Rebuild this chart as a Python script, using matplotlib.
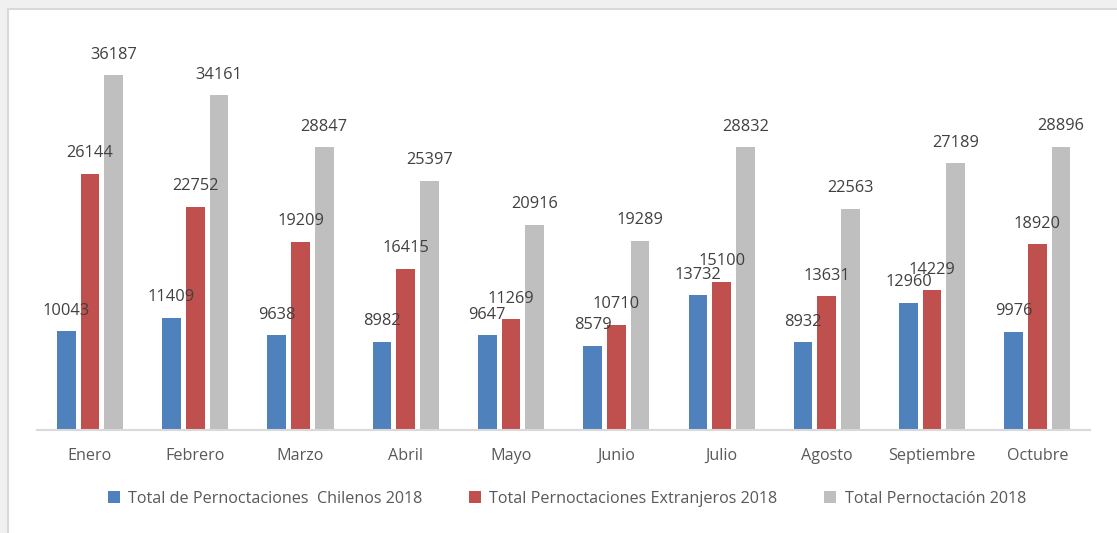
import matplotlib
matplotlib.use("Agg")
import matplotlib.pyplot as plt
from matplotlib.patches import Patch, Rectangle
import numpy as np

categories = ["Enero", "Febrero", "Marzo", "Abril", "Mayo", "Junio", "Julio",
              "Agosto", "Septiembre", "Octubre"]
chilenos = [10043, 11409, 9638, 8982, 9647, 8579, 13732, 8932, 12960, 9976]
extranjeros = [26144, 22752, 19209, 16415, 11269, 10710, 15100, 13631, 14229, 18920]
total = [36187, 34161, 28847, 25397, 20916, 19289, 28832, 22563, 27189, 28896]
series_names = ["Total de Pernoctaciones  Chilenos 2018",
                "Total Pernoctaciones Extranjeros 2018",
                "Total Pernoctación 2018"]
colors = ["#4f81bd", "#c0504d", "#bfbfbf"]

plt.rcParams['font.family'] = ['Open Sans', 'DejaVu Sans']

W, H = 1117, 533
fig = plt.figure(figsize=(W / 100, H / 100), dpi=100, facecolor="#f0f0f0")

# white chart area with light border
fig.patches.append(Rectangle((8 / W, -0.01), 1.02, (H - 9) / H + 0.01,
                             transform=fig.transFigure, facecolor="white",
                             edgecolor="#d9d9d9", linewidth=1.5, zorder=-10))

left = 37.3 / W
right = 1090 / W
bottom = (H - 429.7) / H
top = (H - 38) / H
ax = fig.add_axes([left, bottom, right - left, top - bottom])
ax.set_zorder(5)
ax.set_facecolor("none")

x = np.arange(len(categories))
width = 0.1775
pitch = 0.225
for i, (vals, c, name) in enumerate(zip([chilenos, extranjeros, total], colors, series_names)):
    pos = x + (i - 1) * pitch
    ax.bar(pos, vals, width=width, color=c, label=name, zorder=2)
    for p, v in zip(pos, vals):
        ax.annotate(str(v), (p, v), xytext=(0, 11.9), textcoords="offset points",
                    ha="center", va="baseline", fontsize=11.8, color="#404040")

ax.set_xlim(-0.5, len(categories) - 0.5)
ax.set_ylim(0, 40000)
ax.set_yticks([])
for s in ["top", "right", "left"]:
    ax.spines[s].set_visible(False)
ax.spines["bottom"].set_color("#d9d9d9")
ax.spines["bottom"].set_linewidth(1.5)
ax.set_xticks(x)
ax.set_xticklabels(categories, fontsize=11.6, color="#595959")
ax.tick_params(axis="x", length=0, pad=13)

handles = [Patch(facecolor=c, edgecolor="none") for c in colors]
leg = fig.legend(handles, series_names, loc="center", bbox_to_anchor=(0.5076, (H - 499) / H),
                 ncol=3, frameon=False, fontsize=11.6, labelcolor="#595959",
                 handlelength=0.75, handleheight=0.75, handletextpad=0.5, columnspacing=2.9)
leg.set_zorder(6)

fig.savefig("out.png", dpi=100, facecolor=fig.get_facecolor())
